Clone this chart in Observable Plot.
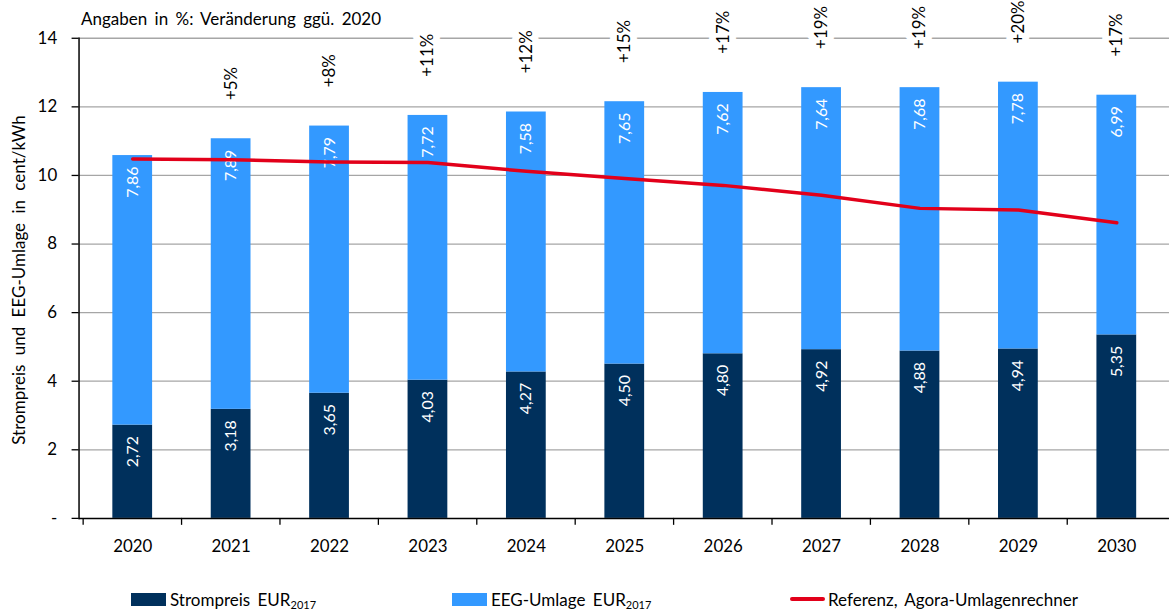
<!DOCTYPE html>
<html>
<head>
<meta charset="utf-8">
<script src="https://cdn.jsdelivr.net/npm/d3@7"></script>
<script src="https://cdn.jsdelivr.net/npm/@observablehq/plot@0.6"></script>
<style>
  html, body { margin: 0; padding: 0; background: #fff; overflow: hidden; width: 1169px; height: 615px; }
  body { position: relative; font-family: Lato, "Open Sans", sans-serif; color: #000; }
  #chart { position: absolute; left: 0; top: 0; }
  .title { position: absolute; left: 81px; top: 8px; font-size: 17px; word-spacing: 3px; white-space: nowrap; }
  .ylabel { position: absolute; left: 18px; top: 280px; font-size: 17px; word-spacing: 5px; white-space: nowrap; transform: translate(-50%, -50%) rotate(-90deg); }
  .legend { position: absolute; top: 589px; left: 0; width: 1169px; height: 22px; font-size: 17px; }
  .item { position: absolute; top: 0; display: flex; align-items: center; height: 20px; white-space: nowrap; word-spacing: 3px; }
  .sw { display: inline-block; width: 35px; height: 13px; margin-right: 4px; }
  .ln { display: inline-block; width: 35px; height: 4px; margin-right: 3px; border-radius: 2px; }
  .sub { font-size: 11px; position: relative; top: 3px; word-spacing: 0; }
</style>
</head>
<body>
<div id="chart"></div>
<div class="title" id="title"></div>
<div class="ylabel" id="ylabel"></div>
<div class="legend">
  <div class="item" style="left:131px"><span class="sw" style="background:#00305c"></span><span>Strompreis EUR<span class="sub">2017</span></span></div>
  <div class="item" style="left:452px"><span class="sw" style="background:#3399ff"></span><span>EEG-Umlage EUR<span class="sub">2017</span></span></div>
  <div class="item" style="left:790px"><span class="ln" style="background:#e2001a"></span><span>Referenz, Agora-Umlagenrechner</span></div>
</div>
<script>
const years = ["2020","2021","2022","2023","2024","2025","2026","2027","2028","2029","2030"];
const strompreis = [2.72, 3.18, 3.65, 4.03, 4.27, 4.50, 4.80, 4.92, 4.88, 4.94, 5.35];
const eegUmlage = [7.86, 7.89, 7.79, 7.72, 7.58, 7.65, 7.62, 7.64, 7.68, 7.78, 6.99];
const referenz = [10.48, 10.46, 10.39, 10.38, 10.12, 9.91, 9.71, 9.42, 9.04, 8.99, 8.62];
const changeLabels = ["", "+5%", "+8%", "+11%", "+12%", "+15%", "+17%", "+19%", "+19%", "+20%", "+17%"];
const yTicks = [0, 2, 4, 6, 8, 10, 12, 14];
const title = "Angaben in %: Veränderung ggü. 2020";
const yLabel = "Strompreis und EEG-Umlage in cent/kWh";

document.getElementById("title").textContent = title;
document.getElementById("ylabel").textContent = yLabel;

const stacked = [];
years.forEach((yr, i) => {
  stacked.push({year: yr, series: "Strompreis", value: strompreis[i]});
  stacked.push({year: yr, series: "EEG-Umlage", value: eegUmlage[i]});
});
const totals = years.map((yr, i) => ({year: yr, total: strompreis[i] + eegUmlage[i], label: changeLabels[i]}));
const refData = years.map((yr, i) => ({year: yr, value: referenz[i]}));
const fmt = v => v.toFixed(2).replace(".", ",");

const W = 1176, H = 570, ML = 79, MT = 38, MB = 49;
const step = (W - ML) / years.length;
const pxPerUnit = (H - MT - MB) / 14;
const tickLen = 7 / pxPerUnit;

const chart = Plot.plot({
  width: W,
  height: H,
  marginLeft: ML,
  marginRight: 0,
  marginTop: MT,
  marginBottom: MB,
  style: {fontFamily: "Lato, 'Open Sans', sans-serif", fontSize: "17px", color: "#000", background: "#fff", overflow: "visible"},
  x: {domain: years, paddingInner: 0.6, paddingOuter: 0.3, label: null},
  y: {domain: [0, 14], label: null},
  color: {domain: ["Strompreis", "EEG-Umlage"], range: ["#00305c", "#3399ff"]},
  marks: [
    Plot.ruleY(yTicks.filter(d => d > 0), {stroke: "#a6a6a6", strokeWidth: 1.3}),
    Plot.barY(stacked, {x: "year", y: "value", fill: "series", order: ["Strompreis", "EEG-Umlage"]}),
    Plot.text(stacked, Plot.stackY2({x: "year", y: "value", z: "series", order: ["Strompreis", "EEG-Umlage"], text: d => fmt(d.value), rotate: -90, textAnchor: "end", dy: 11, fill: "white", fontSize: 16})),
    Plot.lineY(refData, {x: "year", y: "value", stroke: "#e2001a", strokeWidth: 3.5}),
    Plot.text(totals, {x: "year", y: "total", text: "label", rotate: -90, textAnchor: "start", dy: -39, fill: "black", stroke: "white", strokeWidth: 14, fontSize: 17}),
    Plot.ruleY([0], {stroke: "black", strokeWidth: 1.5}),
    Plot.frame({anchor: "left", stroke: "black", strokeWidth: 1.5}),
    Plot.axisY({ticks: yTicks, tickSize: 7, tickPadding: 15, tickFormat: d => d === 0 ? "-" : String(d), stroke: "black", strokeWidth: 1.3, fontSize: 17, label: null}),
    Plot.ruleX(years, {x: d => d, y1: 0, y2: -tickLen, dx: -step / 2, stroke: "black", strokeWidth: 1.3}),
    Plot.axisX({tickSize: 0, tickPadding: 22, fontSize: 17, label: null})
  ]
});
document.getElementById("chart").appendChild(chart);
</script>
</body>
</html>
